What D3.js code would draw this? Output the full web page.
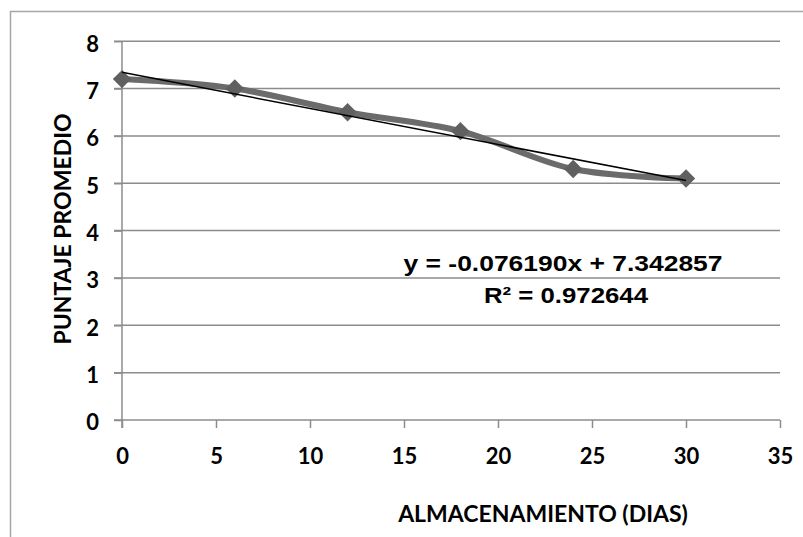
<!DOCTYPE html>
<html>
<head>
<meta charset="utf-8">
<script src="https://cdn.jsdelivr.net/npm/d3@7"></script>
<style>
  html, body { margin: 0; padding: 0; background: #ffffff; }
  svg { display: block; }
</style>
</head>
<body>
<svg id="chart" width="803" height="537"></svg>
<script>
// Storage days and average score
const dias = [0, 6, 12, 18, 24, 30];
const puntaje = [7.2, 7.0, 6.5, 6.1, 5.3, 5.1];
const xTicks = [0, 5, 10, 15, 20, 25, 30, 35];
const yTicks = [0, 1, 2, 3, 4, 5, 6, 7, 8];
const xTitle = "ALMACENAMIENTO (DIAS)";
const yTitle = "PUNTAJE PROMEDIO";

// Least-squares linear trend of the series
const mx = d3.mean(dias), my = d3.mean(puntaje);
const sxy = d3.sum(dias, (d, i) => (d - mx) * (puntaje[i] - my));
const sxx = d3.sum(dias, d => (d - mx) ** 2);
const syy = d3.sum(puntaje, d => (d - my) ** 2);
const slope = sxy / sxx;
const intercept = my - slope * mx;
const r2 = (sxy * sxy) / (sxx * syy);

const svg = d3.select("#chart");
const x = d3.scaleLinear().domain([0, 35]).range([122, 780]);
const y = d3.scaleLinear().domain([0, 8]).range([420, 41.2]);

const gridColor = "#8c8c8c";
const labelFont = "Lato, 'Open Sans', sans-serif";

// Outer chart frame
svg.append("path")
  .attr("d", "M10.5,537 V11.5 H803")
  .attr("fill", "none")
  .attr("stroke", "#a6a6a6")
  .attr("stroke-width", 1.5);

// Horizontal gridlines
svg.append("g")
  .selectAll("line")
  .data(yTicks.filter(v => v > 0))
  .join("line")
  .attr("x1", 114).attr("x2", x(35))
  .attr("y1", d => y(d)).attr("y2", d => y(d))
  .attr("stroke", gridColor).attr("stroke-width", 1.5);

// Y axis
const yAxis = d3.axisLeft(y).tickValues(yTicks).tickSize(8).tickPadding(15).tickFormat(d3.format("d"));
svg.append("g")
  .attr("transform", `translate(${x(0)},0)`)
  .call(yAxis)
  .call(g => g.select(".domain").attr("stroke", gridColor).attr("stroke-width", 1.5)
    .attr("d", `M0,${y(8)}V${y(0) + 8}`))
  .call(g => g.selectAll(".tick line").attr("stroke", gridColor).attr("stroke-width", 1.5))
  .call(g => g.selectAll(".tick text")
    .attr("font-family", labelFont).attr("font-weight", "bold")
    .attr("font-size", 22).attr("fill", "#000").attr("dy", "0.45em"));

// X axis
const xAxis = d3.axisBottom(x).tickValues(xTicks).tickSize(8).tickPadding(20).tickFormat(d3.format("d"));
svg.append("g")
  .attr("transform", `translate(0,${y(0)})`)
  .call(xAxis)
  .call(g => g.select(".domain").attr("stroke", gridColor).attr("stroke-width", 1.5)
    .attr("d", `M114,0H${x(35)}`))
  .call(g => g.selectAll(".tick line").attr("stroke", gridColor).attr("stroke-width", 1.5))
  .call(g => g.selectAll(".tick text")
    .attr("font-family", labelFont).attr("font-weight", "bold")
    .attr("font-size", 22).attr("fill", "#000"));

// Axis titles
svg.append("text")
  .attr("x", 543).attr("y", 522)
  .attr("text-anchor", "middle")
  .attr("font-family", labelFont).attr("font-weight", "bold")
  .attr("font-size", 23).attr("fill", "#000")
  .text(xTitle);

svg.append("text")
  .attr("transform", "translate(71,229) rotate(-90)")
  .attr("text-anchor", "middle")
  .attr("font-family", labelFont).attr("font-weight", "bold")
  .attr("font-size", 23).attr("fill", "#000")
  .text(yTitle);

// Smoothed data series
const pts = dias.map((d, i) => [d, puntaje[i]]);
const line = d3.line()
  .x(d => x(d[0])).y(d => y(d[1]))
  .curve(d3.curveCatmullRom.alpha(0));
svg.append("path")
  .datum(pts)
  .attr("d", line)
  .attr("fill", "none")
  .attr("stroke", "#6b6b6b")
  .attr("stroke-width", 6)
  .attr("stroke-linejoin", "round");

// Diamond markers
svg.append("g")
  .selectAll("path")
  .data(pts)
  .join("path")
  .attr("transform", d => `translate(${x(d[0])},${y(d[1])}) rotate(45)`)
  .attr("d", "M-6.5,-6.5H6.5V6.5H-6.5Z")
  .attr("fill", "#606060");

// Linear trendline
svg.append("line")
  .attr("x1", x(0)).attr("y1", y(intercept))
  .attr("x2", x(30)).attr("y2", y(intercept + slope * 30))
  .attr("stroke", "#000").attr("stroke-width", 1.5);

// Trendline equation and R²
const eqFont = "'Liberation Sans', Arial, sans-serif";
svg.append("text")
  .attr("x", 563).attr("y", 271)
  .attr("text-anchor", "middle")
  .attr("font-family", eqFont).attr("font-weight", "bold")
  .attr("font-size", 22).attr("fill", "#000")
  .attr("textLength", 319).attr("lengthAdjust", "spacingAndGlyphs")
  .text(`y = ${slope.toFixed(6)}x + ${intercept.toFixed(6)}`);
svg.append("text")
  .attr("x", 566).attr("y", 303)
  .attr("text-anchor", "middle")
  .attr("font-family", eqFont).attr("font-weight", "bold")
  .attr("font-size", 22).attr("fill", "#000")
  .attr("textLength", 164).attr("lengthAdjust", "spacingAndGlyphs")
  .text(`R² = ${r2.toFixed(6)}`);
</script>
</body>
</html>
